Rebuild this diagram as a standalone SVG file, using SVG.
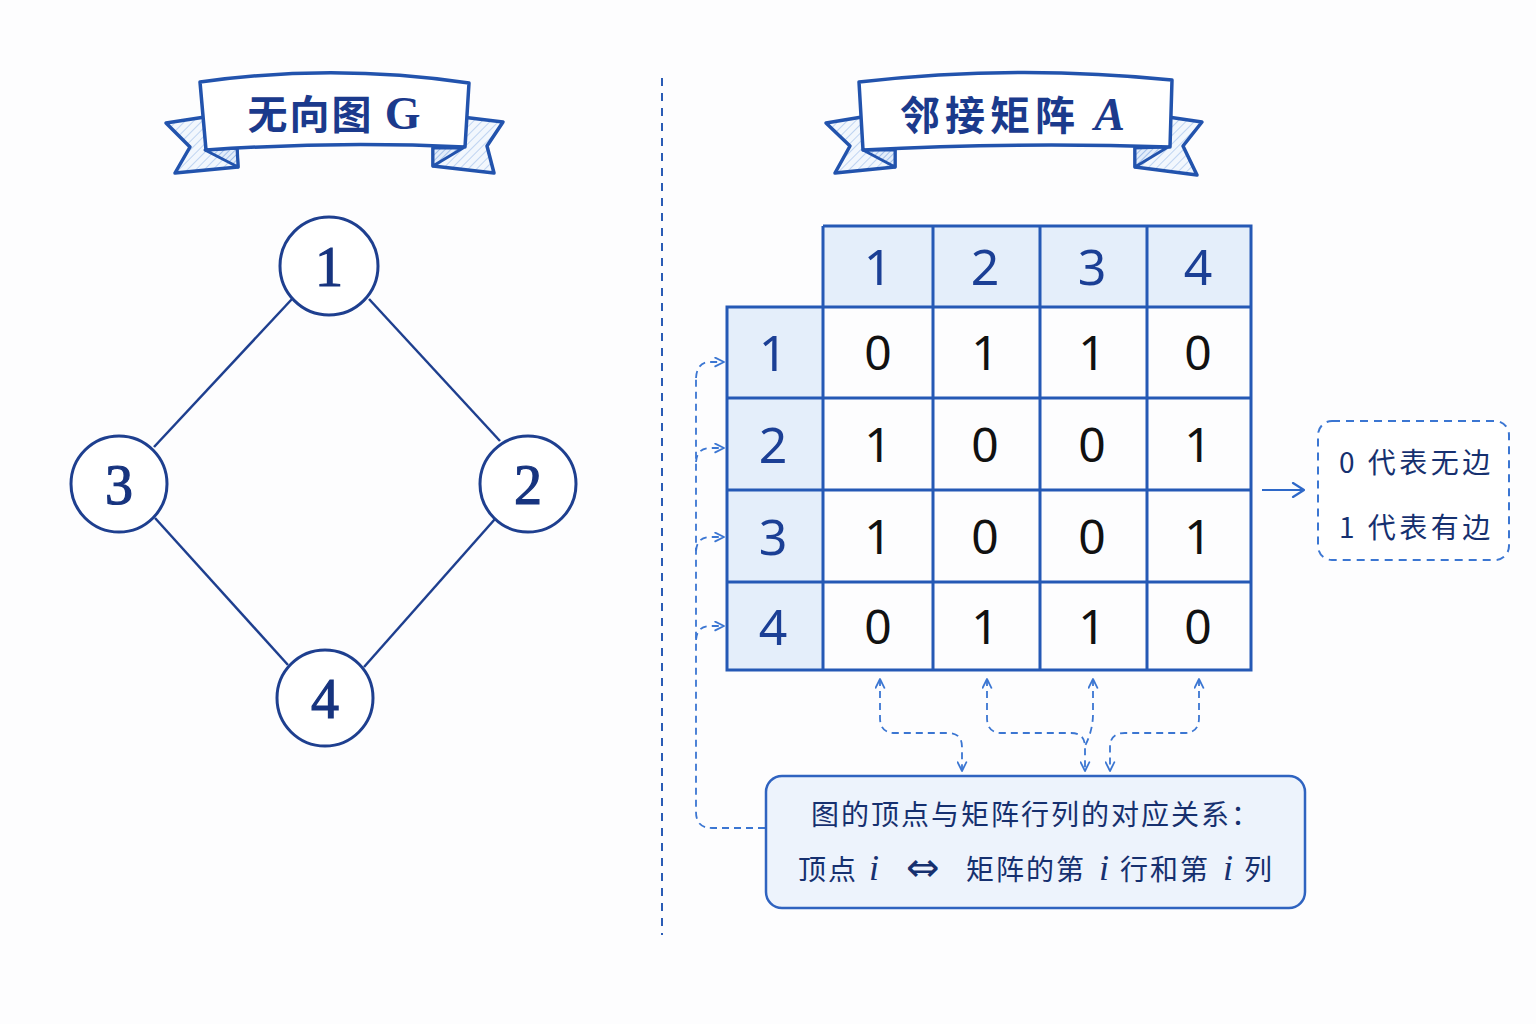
<svg xmlns="http://www.w3.org/2000/svg" width="1536" height="1024" viewBox="0 0 1536 1024">
<style>
.title{font-family:"Noto Sans CJK SC","Noto Sans",sans-serif;font-size:40px;font-weight:700;fill:#1b3a8c}
.lat{font-family:"Liberation Serif","DejaVu Serif",serif}
.ribbon{fill:#fff;stroke:#2253ad;stroke-width:3.5;stroke-linejoin:round}
.tail{fill:url(#hatch);stroke:#2253ad;stroke-width:3.5;stroke-linejoin:round}
.fold{fill:url(#hatch2);stroke:#2253ad;stroke-width:3;stroke-linejoin:round}
.node circle{fill:#fff;stroke:#1e3f8f;stroke-width:3}
.node text{font-family:"Liberation Serif","DejaVu Serif",serif;font-size:56px;fill:#17347f;stroke:#17347f;stroke-width:1.2;text-anchor:middle}
.edge{stroke:#1e3f8f;stroke-width:2.5;fill:none}
.grid{fill:none;stroke:#2559b5;stroke-width:3}
.hdr{fill:#e4eefa}
.hnum{font-family:"Noto Sans","Open Sans",sans-serif;font-size:50px;fill:#1b3f95;text-anchor:middle}
.val{font-family:"Noto Sans","Open Sans",sans-serif;font-size:48px;fill:#111;text-anchor:middle}
.dash{fill:none;stroke:#3b76d2;stroke-width:1.8;stroke-dasharray:7 5}
.cn{font-family:"Noto Sans CJK SC","Noto Sans",sans-serif;font-size:28px;fill:#16306f;letter-spacing:2px}
.leg{font-family:"Noto Sans CJK SC","Noto Sans",sans-serif;font-size:28px;fill:#16306f;letter-spacing:3.5px}
.it{font-family:"Liberation Serif","DejaVu Serif",serif;font-style:italic;font-size:36px;fill:#16306f}
</style>
<defs>
<pattern id="hatch" width="6" height="6" patternUnits="userSpaceOnUse" patternTransform="rotate(45)">
<rect width="6" height="6" fill="#f2f7fd"/>
<line x1="0" y1="0" x2="0" y2="6" stroke="#9dbdea" stroke-width="1.2"/>
</pattern>
<pattern id="hatch2" width="4" height="4" patternUnits="userSpaceOnUse" patternTransform="rotate(45)">
<rect width="4" height="4" fill="#e3edfa"/>
<line x1="0" y1="0" x2="0" y2="4" stroke="#7fa6e0" stroke-width="1.3"/>
</pattern>
<marker id="arr" viewBox="0 0 10 10" refX="9" refY="5" markerWidth="11" markerHeight="11" markerUnits="userSpaceOnUse" orient="auto-start-reverse">
<path d="M1,1 L9,5 L1,9" fill="none" stroke="#3b76d2" stroke-width="1.6" stroke-linecap="round" stroke-linejoin="round"/>
</marker>
<marker id="arr2" viewBox="0 0 14 16" refX="13" refY="8" markerWidth="14" markerHeight="16" markerUnits="userSpaceOnUse" orient="auto">
<path d="M2,1 L13,8 L2,15" fill="none" stroke="#2e68c8" stroke-width="2.2" stroke-linecap="round" stroke-linejoin="round"/>
</marker>
</defs>
<rect width="1536" height="1024" fill="#fdfdfe"/>

<!-- Banner 1 -->
<g id="banner-graph">
<path class="tail" d="M166,123 L205,117 L237,148 L238,167 L175,173 L190,147 Z"/>
<path class="tail" d="M503,122 L462,117 L433,148 L433,166 L494,173 L487,146 Z"/>
<path class="fold" d="M205,150 L237,148 L238,167 Z"/>
<path class="fold" d="M463,148 L433,148 L433,166 Z"/>
<path class="ribbon" d="M200,82 Q334,63 469,83 L465,147 Q334,141 206,150 Z"/>
<text class="title" x="335" y="129" text-anchor="middle" letter-spacing="2">无向图 <tspan class="lat" font-weight="700" font-size="46">G</tspan></text>
</g>

<!-- Banner 2 -->
<g id="banner-matrix">
<path class="tail" d="M826,123 L862,117 L895,150 L895,167 L835,173 L850,146 Z"/>
<path class="tail" d="M1202,122 L1168,117 L1135,148 L1135,167 L1197,175 L1183,146 Z"/>
<path class="fold" d="M863,150 L895,150 L895,167 Z"/>
<path class="fold" d="M1168,147 L1135,148 L1135,167 Z"/>
<path class="ribbon" d="M859,82 Q1015,64 1172,80 L1170,147 Q1015,142 863,150 Z"/>
<text class="title" x="1015" y="130" text-anchor="middle" letter-spacing="5">邻接矩阵 <tspan class="lat" font-style="italic" font-weight="700" font-size="46">A</tspan></text>
</g>

<!-- Divider -->
<line id="divider" x1="662" y1="78" x2="662" y2="935" stroke="#2a5cb5" stroke-width="2" stroke-dasharray="8 7"/>

<g id="connectors">
<line class="edge" x1="292" y1="299" x2="154" y2="447"/>
<line class="edge" x1="369" y1="299" x2="500" y2="441"/>
<line class="edge" x1="155" y1="518" x2="288" y2="665"/>
<line class="edge" x1="495" y1="519" x2="364" y2="667"/>

<path class="dash" d="M765,828 L712,828 Q696,828 696,812 L696,378"/>
<path class="dash" d="M696,378 Q697,362 710,362 L724,362" marker-end="url(#arr)"/>
<path class="dash" d="M696,462 Q697,448 710,448 L724,448" marker-end="url(#arr)"/>
<path class="dash" d="M696,551 Q697,537 710,537 L724,537" marker-end="url(#arr)"/>
<path class="dash" d="M696,640 Q697,626 710,626 L724,626" marker-end="url(#arr)"/>

<path class="dash" d="M880,679 L880,718 Q880,733 895,733 L948,733 Q962,733 962,747 L962,771" marker-start="url(#arr)" marker-end="url(#arr)"/>
<path class="dash" d="M987,679 L987,718 Q987,733 1002,733 L1071,733 Q1085,733 1085,747 L1085,771" marker-start="url(#arr)" marker-end="url(#arr)"/>
<path class="dash" d="M1093,679 L1093,714 Q1093,730 1085,746" marker-start="url(#arr)"/>
<path class="dash" d="M1199,679 L1199,718 Q1199,733 1184,733 L1125,733 Q1110,733 1110,747 L1110,771" marker-start="url(#arr)" marker-end="url(#arr)"/>

<line x1="1262" y1="490" x2="1304" y2="490" stroke="#2e68c8" stroke-width="2.2" marker-end="url(#arr2)"/>
</g>

<g id="node-1" class="node"><circle cx="329" cy="266" r="49"/><text x="329" y="286">1</text></g>
<g id="node-2" class="node"><circle cx="528" cy="484" r="48"/><text x="528" y="504">2</text></g>
<g id="node-3" class="node"><circle cx="119" cy="484" r="48"/><text x="119" y="504">3</text></g>
<g id="node-4" class="node"><circle cx="325" cy="698" r="48"/><text x="325" y="718">4</text></g>

<g id="matrix">
<rect class="hdr" x="823" y="226" width="428" height="81"/>
<rect class="hdr" x="727" y="307" width="96" height="363"/>
<path class="grid" d="M823,226 H1251 V670 H727 V307 H1251 M823,226 V670 M933,226 V670 M1040,226 V670 M1147,226 V670 M727,398 H1251 M727,490 H1251 M727,582 H1251"/>
<text class="hnum" x="878" y="285">1</text>
<text class="hnum" x="985" y="285">2</text>
<text class="hnum" x="1092" y="285">3</text>
<text class="hnum" x="1198" y="285">4</text>
<text class="hnum" x="773" y="371">1</text>
<text class="hnum" x="773" y="463">2</text>
<text class="hnum" x="773" y="555">3</text>
<text class="hnum" x="773" y="645">4</text>
<text class="val" x="878" y="370">0</text><text class="val" x="985" y="370">1</text><text class="val" x="1092" y="370">1</text><text class="val" x="1198" y="370">0</text>
<text class="val" x="878" y="462">1</text><text class="val" x="985" y="462">0</text><text class="val" x="1092" y="462">0</text><text class="val" x="1198" y="462">1</text>
<text class="val" x="878" y="554">1</text><text class="val" x="985" y="554">0</text><text class="val" x="1092" y="554">0</text><text class="val" x="1198" y="554">1</text>
<text class="val" x="878" y="644">0</text><text class="val" x="985" y="644">1</text><text class="val" x="1092" y="644">1</text><text class="val" x="1198" y="644">0</text>
</g>

<g id="legend">
<rect x="1318" y="421" width="191" height="139" rx="14" fill="#fff" stroke="#3b76d2" stroke-width="2" stroke-dasharray="8 6"/>
<text class="leg" x="1339" y="473">0 代表无边</text>
<text class="leg" x="1339" y="538">1 代表有边</text>
</g>

<g id="correspondence">
<rect x="766" y="776" width="539" height="132" rx="16" fill="#edf3fc" stroke="#2f63c0" stroke-width="2.5"/>
<text class="cn" x="1036" y="825" text-anchor="middle">图的顶点与矩阵行列的对应关系：</text>
<text class="cn" x="798" y="880">顶点</text>
<text class="it" x="869" y="880">i</text>
<text x="906" y="881" font-family="DejaVu Sans,sans-serif" font-size="40" fill="#16306f">⇔</text>
<text class="cn" x="966" y="880">矩阵的第</text>
<text class="it" x="1099" y="880">i</text>
<text class="cn" x="1120" y="880">行和第</text>
<text class="it" x="1223" y="880">i</text>
<text class="cn" x="1244" y="880">列</text>
</g>
</svg>
